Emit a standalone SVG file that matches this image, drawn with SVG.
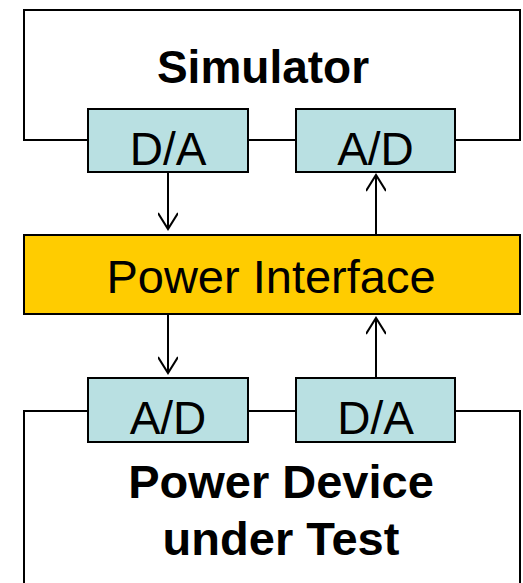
<svg xmlns="http://www.w3.org/2000/svg" width="523" height="583" viewBox="0 0 523 583">
<defs>
<style>
.ln{fill:none;stroke:#000;stroke-width:2}
.conv{fill:#B9E0E2;stroke:#000;stroke-width:2}
.t{font-family:"Liberation Sans",Arial,sans-serif;font-size:46px;fill:#000;text-anchor:middle}
.b{font-weight:bold}
.lg{font-size:47px}
</style>
<marker id="ah" viewBox="0 0 20 20" refX="18" refY="10" markerWidth="20" markerHeight="20" markerUnits="userSpaceOnUse" orient="auto">
<path d="M2,0 L18,10 L2,20" fill="none" stroke="#000" stroke-width="2"/>
</marker>
</defs>
<rect width="523" height="583" fill="#fff"/>
<g id="simulator">
<polyline class="ln" points="88,140 24,140 24,10 520,10 520,140 455,140"/>
<line class="ln" x1="248" y1="140" x2="296" y2="140"/>
<text class="t b" x="263" y="83">Simulator</text>
</g>
<g id="sim-da">
<rect class="conv" x="88" y="109" width="160" height="63"/>
<text class="t" x="168" y="165">D/A</text>
</g>
<g id="sim-ad">
<rect class="conv" x="296" y="109" width="159" height="63"/>
<text class="t" x="375.5" y="165">A/D</text>
</g>
<g id="power-interface">
<rect x="24" y="235" width="496" height="79" fill="#FFCC00" stroke="#000" stroke-width="2"/>
<text class="t lg" x="271" y="293">Power Interface</text>
</g>
<g id="device">
<polyline class="ln" points="24,583 24,411 88,411"/>
<polyline class="ln" points="520,583 520,411 455,411"/>
<line class="ln" x1="248" y1="411" x2="296" y2="411"/>
<text class="t b lg" x="281" y="498">Power Device</text>
<text class="t b lg" x="281" y="555">under Test</text>
</g>
<g id="dev-ad">
<rect class="conv" x="88" y="378" width="160" height="64"/>
<text class="t" x="168" y="434">A/D</text>
</g>
<g id="dev-da">
<rect class="conv" x="296" y="378" width="159" height="64"/>
<text class="t" x="375.5" y="434">D/A</text>
</g>
<g id="connectors">
<line class="ln" x1="168" y1="172" x2="168" y2="229" marker-end="url(#ah)"/>
<line class="ln" x1="376" y1="235" x2="376" y2="175" marker-end="url(#ah)"/>
<line class="ln" x1="168" y1="314" x2="168" y2="373" marker-end="url(#ah)"/>
<line class="ln" x1="376" y1="378" x2="376" y2="318" marker-end="url(#ah)"/>
</g>
</svg>
